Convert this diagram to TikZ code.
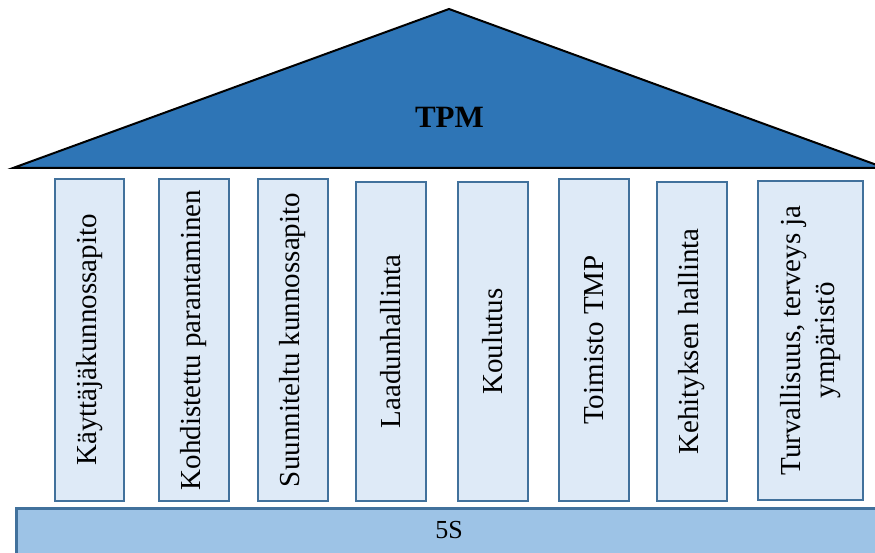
\documentclass[tikz,border=0pt]{standalone}
\usepackage{fontspec}
\setmainfont{Liberation Serif}
\definecolor{rooffill}{RGB}{46,117,182}
\definecolor{pillfill}{RGB}{222,234,247}
\definecolor{pilldraw}{RGB}{65,113,156}
\definecolor{basefill}{RGB}{157,195,230}
\tikzset{
  pillar/.style={draw=pilldraw, fill=pillfill, line width=2pt, rectangle, inner sep=0pt},
  pilltext/.style={rotate=90, font=\fontsize{29}{34}\selectfont, align=center, inner sep=0pt},
  roofstyle/.style={draw=black, fill=rooffill, line width=2pt, line join=miter},
  basestyle/.style={draw=pilldraw, fill=basefill, line width=2.5pt}
}
\begin{document}
\begin{tikzpicture}[x=1pt,y=-1pt]
\clip (0,0) rectangle (875,553);
\fill[white] (0,0) rectangle (875,553);
% roof
\coordinate (rl) at (13,168);
\coordinate (ra) at (449,9);
\coordinate (rr) at (885,168);
\draw[roofstyle] (rl) -- (ra) -- (rr) -- cycle;
\node[font=\fontsize{31}{36}\selectfont\bfseries, anchor=base, inner sep=0pt] (tpm) at (449.5,128) {TPM};
% base
\node[basestyle, minimum width=880pt, minimum height=60pt, anchor=north west] (base) at (15,507) {};
\node[font=\fontsize{26}{30}\selectfont, anchor=base, inner sep=0pt] (fives) at (449,538) {5S};
% pillars
\node[pillar, minimum width=69pt, minimum height=322pt, anchor=north west] (p1) at (54,178) {};
\node[pillar, minimum width=70pt, minimum height=322pt, anchor=north west] (p2) at (158,178) {};
\node[pillar, minimum width=70pt, minimum height=322pt, anchor=north west] (p3) at (257,178) {};
\node[pillar, minimum width=70pt, minimum height=319pt, anchor=north west] (p4) at (355,181) {};
\node[pillar, minimum width=70pt, minimum height=319pt, anchor=north west] (p5) at (457,181) {};
\node[pillar, minimum width=70pt, minimum height=322pt, anchor=north west] (p6) at (558,178) {};
\node[pillar, minimum width=70pt, minimum height=319pt, anchor=north west] (p7) at (656,181) {};
\node[pillar, minimum width=105pt, minimum height=319pt, anchor=north west] (p8) at (757,180) {};
\node[pilltext] (t1) at (p1) {Käyttäjäkunnossapito};
\node[pilltext] (t2) at (p2) {Kohdistettu parantaminen};
\node[pilltext] (t3) at (p3) {Suunniteltu kunnossapito};
\node[pilltext] (t4) at (p4) {Laadunhallinta};
\node[pilltext] (t5) at (p5) {Koulutus};
\node[pilltext] (t6) at (p6) {Toimisto TMP};
\node[pilltext] (t7) at (p7) {Kehityksen hallinta};
\node[pilltext] (t8) at (p8) {Turvallisuus, terveys ja\\ympäristö};
\end{tikzpicture}
\end{document}
